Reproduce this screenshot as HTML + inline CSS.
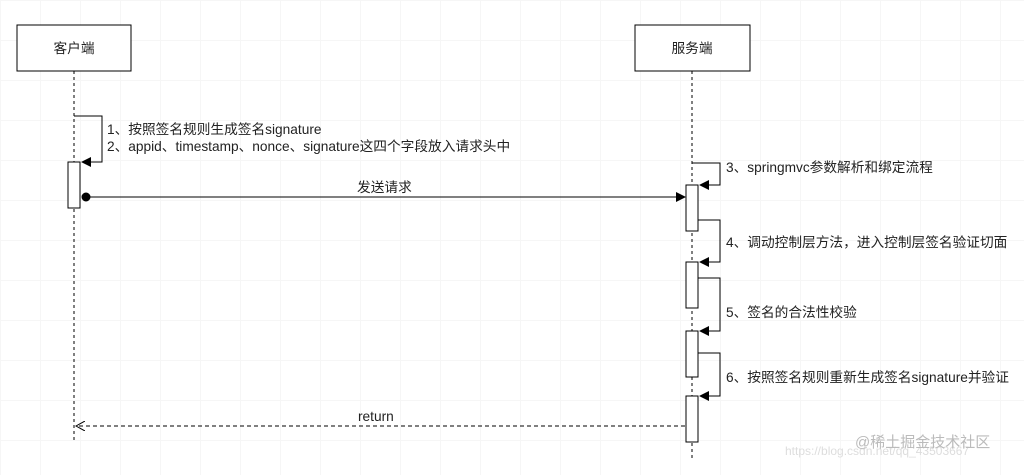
<!DOCTYPE html>
<html><head><meta charset="utf-8"><style>
body{margin:0;width:1024px;height:470px;overflow:hidden;background:#fff;
background-image:linear-gradient(#f6f6f6 1px,transparent 1px),linear-gradient(90deg,#f6f6f6 1px,transparent 1px);background-size:40px 40px;}
text{font-family:"Liberation Sans","Noto Sans CJK SC",sans-serif;font-size:13.7px;fill:#222}
</style></head><body>
<svg width="1024" height="470" xmlns="http://www.w3.org/2000/svg">
<defs>
<marker id="a" markerWidth="10" markerHeight="10" refX="9" refY="5" orient="auto" markerUnits="userSpaceOnUse"><path d="M0,0 L10,5 L0,10 z" fill="#000"/></marker>
<marker id="o" markerWidth="10" markerHeight="10" refX="9" refY="5" orient="auto" markerUnits="userSpaceOnUse"><path d="M0,0 L9,5 L0,10" fill="none" stroke="#000"/></marker>
</defs>
<g stroke="#000" fill="none">
<rect x="17" y="25" width="114" height="46" fill="#fff"/>
<rect x="635" y="25" width="115" height="46" fill="#fff"/>
<line x1="74" y1="71" x2="74" y2="440" stroke-dasharray="3,3"/>
<line x1="692" y1="71" x2="692" y2="460" stroke-dasharray="3,3"/>
<polyline points="74,116 102,116 102,162 82,162" marker-end="url(#a)"/>
<rect x="68" y="162" width="12" height="46" fill="#fff"/>
<line x1="86" y1="197" x2="685" y2="197" marker-end="url(#a)"/>
<circle cx="86" cy="197" r="4" fill="#000"/>
<polyline points="692,163 720,163 720,185 700,185" marker-end="url(#a)"/>
<rect x="686" y="185" width="12" height="46" fill="#fff"/>
<polyline points="698,220 720,220 720,262 700,262" marker-end="url(#a)"/>
<rect x="686" y="262" width="12" height="46" fill="#fff"/>
<polyline points="698,278 720,278 720,331 700,331" marker-end="url(#a)"/>
<rect x="686" y="331" width="12" height="46" fill="#fff"/>
<polyline points="698,353 720,353 720,396 700,396" marker-end="url(#a)"/>
<rect x="686" y="396" width="12" height="46" fill="#fff"/>
<line x1="685" y1="426" x2="76" y2="426" stroke-dasharray="4,3" marker-end="url(#o)"/>
</g>
<text x="74" y="53" text-anchor="middle">客户端</text>
<text x="692" y="53" text-anchor="middle">服务端</text>
<text x="107" y="134">1、按照签名规则生成签名signature</text>
<text x="107" y="151">2、appid、timestamp、nonce、signature这四个字段放入请求头中</text>
<text x="357" y="192">发送请求</text>
<text x="726" y="172">3、springmvc参数解析和绑定流程</text>
<text x="726" y="247">4、调动控制层方法，进入控制层签名验证切面</text>
<text x="726" y="317">5、签名的合法性校验</text>
<text x="726" y="382">6、按照签名规则重新生成签名signature并验证</text>
<text x="358" y="421">return</text>
<text x="785" y="455" style="font-size:12px;fill:#ddd">https://blog.csdn.net/qq_43503667</text>
<text x="855" y="447" style="font-size:15px;fill:#bbb">@稀土掘金技术社区</text>
</svg>
</body></html>
